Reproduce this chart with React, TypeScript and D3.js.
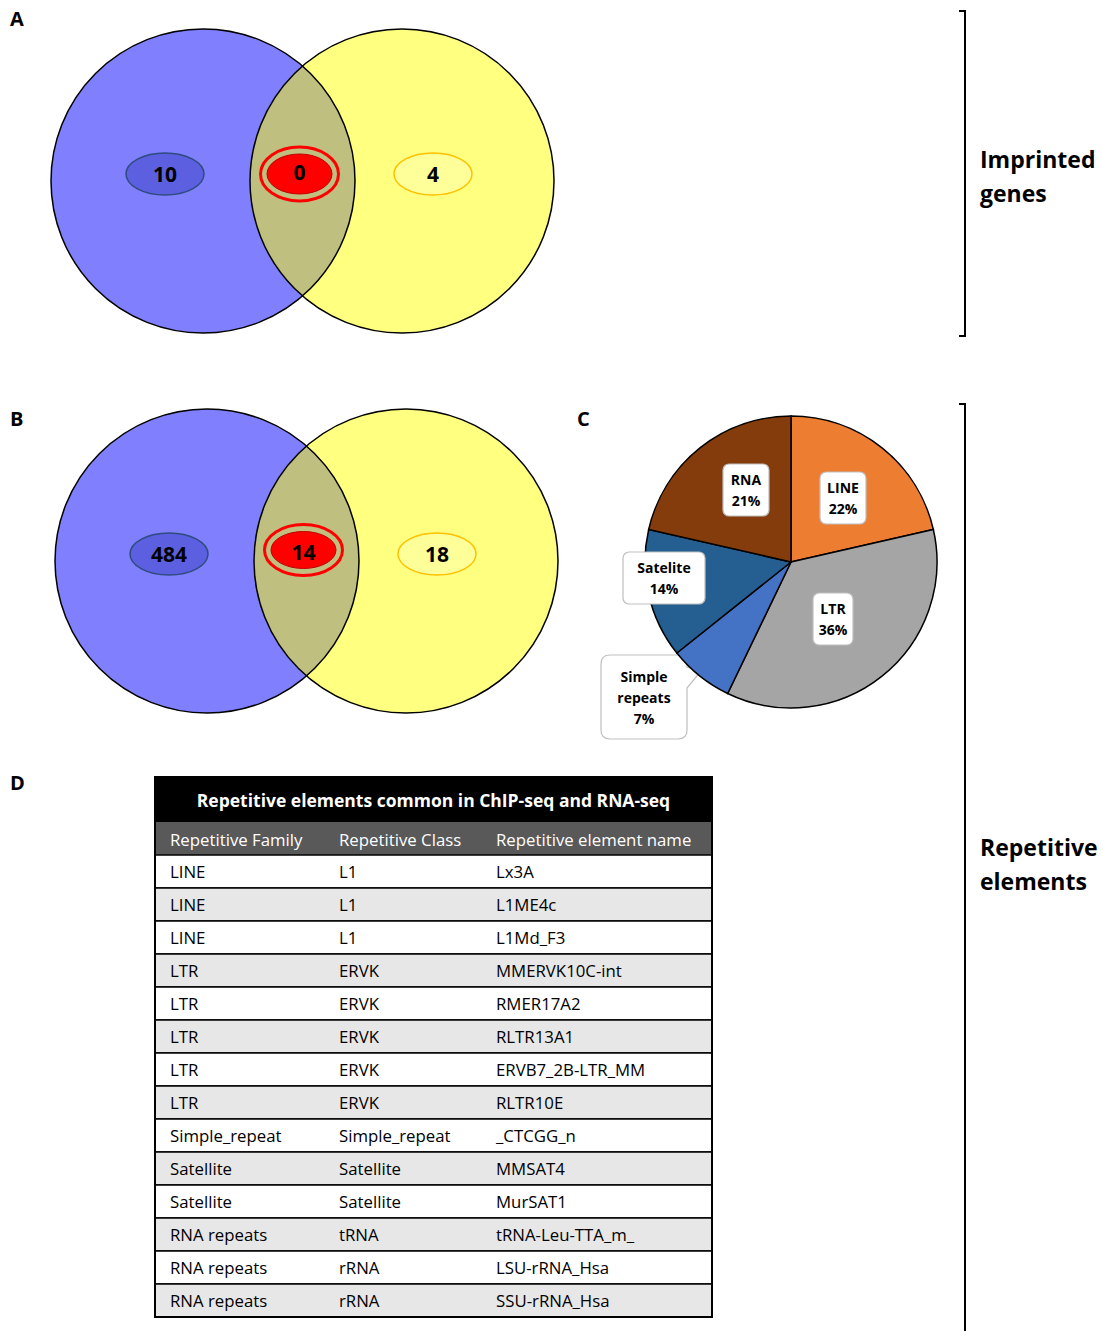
import React from "react";
import * as d3 from "d3";

const vennACounts = [10, 0, 4];
const vennBCounts = [484, 14, 18];

const pieCategories = ["LINE", "LTR", "Simple repeats", "Satelite", "RNA"];
const pieCounts = [3, 5, 1, 2, 3];
const piePercents = ["22%", "36%", "7%", "14%", "21%"];
const pieColors = ["#ed7d31", "#a5a5a5", "#4472c4", "#255e91", "#843c0c"];

const tableTitle = "Repetitive elements common in ChIP-seq and RNA-seq";
const tableHeaders = ["Repetitive Family", "Repetitive Class", "Repetitive element name"];
const tableFamily = ["LINE", "LINE", "LINE", "LTR", "LTR", "LTR", "LTR", "LTR", "Simple_repeat", "Satellite", "Satellite", "RNA repeats", "RNA repeats", "RNA repeats"];
const tableClass = ["L1", "L1", "L1", "ERVK", "ERVK", "ERVK", "ERVK", "ERVK", "Simple_repeat", "Satellite", "Satellite", "tRNA", "rRNA", "rRNA"];
const tableName = ["Lx3A", "L1ME4c", "L1Md_F3", "MMERVK10C-int", "RMER17A2", "RLTR13A1", "ERVB7_2B-LTR_MM", "RLTR10E", "_CTCGG_n", "MMSAT4", "MurSAT1", "tRNA-Leu-TTA_m_", "LSU-rRNA_Hsa", "SSU-rRNA_Hsa"];

const FONT = "'Open Sans', Lato, sans-serif";

function Venn({ id, cx, cy, counts, ringDy, ringRy }: { id: string; cx: number; cy: number; counts: number[]; ringDy: number; ringRy: number }) {
  const x = d3.scaleLinear().domain([0, 1]).range([cx, cx + 199]);
  const r = 152;
  const lx = x(0), rx = x(1);
  const labelX = [lx - 38, (lx + rx) / 2 - 3, rx + 31];
  return (
    <g>
      <defs>
        <clipPath id={id}>
          <circle cx={lx} cy={cy} r={r} />
        </clipPath>
      </defs>
      <circle cx={lx} cy={cy} r={r} fill="#8080ff" />
      <circle cx={rx} cy={cy} r={r} fill="#ffff80" />
      <circle cx={rx} cy={cy} r={r} fill="#bfbf80" clipPath={`url(#${id})`} />
      <circle cx={lx} cy={cy} r={r} fill="none" stroke="#000" strokeWidth={1.5} />
      <circle cx={rx} cy={cy} r={r} fill="none" stroke="#000" strokeWidth={1.5} />
      <ellipse cx={labelX[0]} cy={cy - 7} rx={39} ry={21} fill="#5b5fe0" stroke="#2f4b7f" strokeWidth={1.5} />
      <ellipse cx={labelX[1]} cy={cy + ringDy} rx={39} ry={ringRy} fill="none" stroke="#ff0000" strokeWidth={3} />
      <ellipse cx={labelX[1]} cy={cy + ringDy} rx={32.5} ry={ringRy - 7} fill="#ff0000" stroke="#c00000" strokeWidth={1} />
      <ellipse cx={labelX[2]} cy={cy - 7} rx={39} ry={21} fill="#ffff99" stroke="#ffc000" strokeWidth={1.5} />
      {counts.map((c, i) => (
        <text key={i} x={labelX[i]} y={cy - 7 + (i === 1 ? -2 : 0)} textAnchor="middle" dominantBaseline="central"
          fontFamily={FONT} fontWeight="bold" fontSize={21} fill="#000">{c}</text>
      ))}
    </g>
  );
}

function Pie() {
  const cx = 791, cy = 562, R = 146;
  const pie = d3.pie<number>().sort(null).value((d) => d);
  const arcs = pie(pieCounts);
  const arc = d3.arc<d3.PieArcDatum<number>>().innerRadius(0).outerRadius(R);
  const boxes = [
    { x: 843, y: 498, w: 46, h: 52 },
    { x: 833, y: 619, w: 40, h: 52 },
    { x: 644, y: 697, w: 86, h: 84 },
    { x: 664, y: 578, w: 82, h: 52 },
    { x: 746, y: 490, w: 46, h: 52 },
  ];
  const lines = (i: number) => {
    const name = pieCategories[i];
    const pct = piePercents[i];
    if (name === "Simple repeats") return ["Simple", "repeats", pct];
    return [name, pct];
  };
  const labelText = (i: number) => {
    const b = boxes[i];
    const ls = lines(i);
    return ls.map((t, j) => (
      <text key={j} x={b.x} y={b.y + (j - (ls.length - 1) / 2) * 21} textAnchor="middle" dominantBaseline="central"
        fontFamily={FONT} fontWeight="bold" fontSize={14} fill="#000">{t}</text>
    ));
  };
  const ci = 2;
  const cb = boxes[ci];
  const cx0 = cb.x - cb.w / 2, cy0 = cb.y - cb.h / 2;
  const calloutPath = `M${cx0 + 9},${cy0} H${cx0 + cb.w - 9} Q${cx0 + cb.w},${cy0} ${cx0 + cb.w},${cy0 + 9} V${cy0 + 12} L${cx0 + cb.w + 14},${cy0 + 16} L${cx0 + cb.w},${cy0 + 33} V${cy0 + cb.h - 9} Q${cx0 + cb.w},${cy0 + cb.h} ${cx0 + cb.w - 9},${cy0 + cb.h} H${cx0 + 9} Q${cx0},${cy0 + cb.h} ${cx0},${cy0 + cb.h - 9} V${cy0 + 9} Q${cx0},${cy0} ${cx0 + 9},${cy0} Z`;
  return (
    <g>
      <path d={calloutPath} fill="#fff" stroke="#bfbfbf" strokeWidth={1.2} />
      {arcs.map((a, i) => (
        <path key={i} d={arc(a) as string} transform={`translate(${cx},${cy})`} fill={pieColors[i]} stroke="#000" strokeWidth={1.5} />
      ))}
      {labelText(ci)}
      {arcs.map((a, i) => {
        if (i === ci) return null;
        const b = boxes[i];
        const x0 = b.x - b.w / 2, y0 = b.y - b.h / 2;
        return (
          <g key={"l" + i}>
            <rect x={x0} y={y0} width={b.w} height={b.h} rx={6} fill="#fff" stroke="#bfbfbf" strokeWidth={1.2} />
            {labelText(i)}
          </g>
        );
      })}
    </g>
  );
}

function Table() {
  const x0 = 155, x1 = 712;
  const y = d3.scaleBand<number>().domain(d3.range(tableFamily.length)).range([855, 1317]).padding(0);
  const colX = [170, 339, 496];
  return (
    <g fontFamily={FONT}>
      <rect x={x0} y={777} width={x1 - x0} height={45} fill="#000" />
      <text x={(x0 + x1) / 2} y={800} textAnchor="middle" dominantBaseline="central" fill="#fff" fontWeight="bold" fontSize={17.5}>{tableTitle}</text>
      <rect x={x0} y={822} width={x1 - x0} height={33} fill="#595959" />
      {tableHeaders.map((h, i) => (
        <text key={i} x={colX[i]} y={839} dominantBaseline="central" fill="#fff" fontSize={16.8}>{h}</text>
      ))}
      {tableFamily.map((f, i) => {
        const yy = y(i) as number;
        const bw = y.bandwidth();
        const vals = [f, tableClass[i], tableName[i]];
        return (
          <g key={i}>
            <rect x={x0} y={yy} width={x1 - x0} height={bw} fill={i % 2 === 0 ? "#ffffff" : "#e7e7e7"} stroke="#000" strokeWidth={1.5} />
            {vals.map((v, j) => (
              <text key={j} x={colX[j]} y={yy + bw / 2} dominantBaseline="central" fill="#000" fontSize={16.8}>{v}</text>
            ))}
          </g>
        );
      })}
      <rect x={x0} y={777} width={x1 - x0} height={1317 - 777} fill="none" stroke="#000" strokeWidth={2} />
    </g>
  );
}

export default function App() {
  return (
    <svg width={1103} height={1331} style={{ position: "absolute", left: 0, top: 0, background: "#fff" }}>
      <rect width={1103} height={1331} fill="#fff" />
      <g fontFamily={FONT} fontWeight="bold" fontSize={20} fill="#000">
        <text x={10} y={26}>A</text>
        <text x={10} y={426}>B</text>
        <text x={577} y={426}>C</text>
        <text x={10} y={790}>D</text>
      </g>
      <Venn id="clipA" cx={203} cy={181} counts={vennACounts} ringDy={-7} ringRy={27} />
      <Venn id="clipB" cx={207} cy={561} counts={vennBCounts} ringDy={-11} ringRy={25.5} />
      <Pie />
      <Table />
      <path d="M959,11 H965 V336 H959" fill="none" stroke="#000" strokeWidth={2} />
      <path d="M959,404 H965 V1331" fill="none" stroke="#000" strokeWidth={2} />
      <g fontFamily={FONT} fontWeight="bold" fontSize={23} fill="#000">
        <text x={980} y={168}>Imprinted</text>
        <text x={980} y={202}>genes</text>
        <text x={980} y={856}>Repetitive</text>
        <text x={980} y={890}>elements</text>
      </g>
    </svg>
  );
}
